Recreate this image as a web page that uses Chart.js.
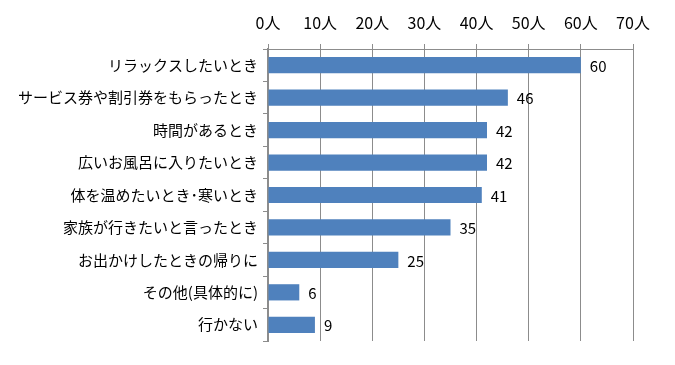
<!DOCTYPE html>
<html>
<head>
<meta charset="utf-8">
<script src="https://cdn.jsdelivr.net/npm/chart.js@4.4.0/dist/chart.umd.min.js"></script>
<style>
  body { margin: 0; background: #fff; }
  #wrap { width: 675px; height: 365px; }
</style>
</head>
<body>
<div id="wrap"><canvas id="c" width="675" height="365"></canvas></div>
<script>
const categories = [
  'リラックスしたいとき',
  'サービス券や割引券をもらったとき',
  '時間があるとき',
  '広いお風呂に入りたいとき',
  '体を温めたいとき･寒いとき',
  '家族が行きたいと言ったとき',
  'お出かけしたときの帰りに',
  'その他(具体的に)',
  '行かない'
];
const counts = [60, 46, 42, 42, 41, 35, 25, 6, 9];
const tickUnit = '人';

const FONT = '"Noto Sans CJK JP", "Noto Sans", sans-serif';

// 数値ラベル（バーの右側）
const valueLabels = {
  id: 'valueLabels',
  afterDatasetsDraw(chart) {
    const ctx = chart.ctx;
    const meta = chart.getDatasetMeta(0);
    ctx.save();
    ctx.font = '15px ' + FONT;
    ctx.fillStyle = '#000';
    ctx.textAlign = 'left';
    ctx.textBaseline = 'middle';
    meta.data.forEach((bar, i) => {
      ctx.fillText(String(counts[i]), bar.x + 9, bar.y + 1);
    });
    ctx.restore();
  }
};

new Chart(document.getElementById('c'), {
  type: 'bar',
  data: {
    labels: categories,
    datasets: [{
      data: counts,
      backgroundColor: '#4F81BD',
      borderWidth: 0,
      categoryPercentage: 1,
      barPercentage: 0.5
    }]
  },
  options: {
    indexAxis: 'y',
    responsive: false,
    animation: false,
    layout: { padding: { left: 0, right: 42, top: 0, bottom: 24 } },
    plugins: { legend: { display: false }, tooltip: { enabled: false } },
    scales: {
      x: {
        position: 'top',
        min: 0,
        max: 70,
        ticks: {
          stepSize: 10,
          color: '#000',
          font: { family: FONT, size: 16 },
          padding: 11,
          callback: v => v + tickUnit
        },
        grid: { color: '#8c8c8c', lineWidth: 1, tickLength: 5 },
        border: { color: '#8c8c8c', width: 1 },
        afterFit: s => { s.height = 49; }
      },
      y: {
        ticks: {
          color: '#000',
          font: { family: FONT, size: 15 },
          padding: 5
        },
        grid: { offset: true, drawOnChartArea: false, color: '#8c8c8c', tickLength: 5 },
        border: { color: '#8c8c8c', width: 2 },
        afterFit: s => { s.width = 268; }
      }
    }
  },
  plugins: [valueLabels]
});
</script>
</body>
</html>
